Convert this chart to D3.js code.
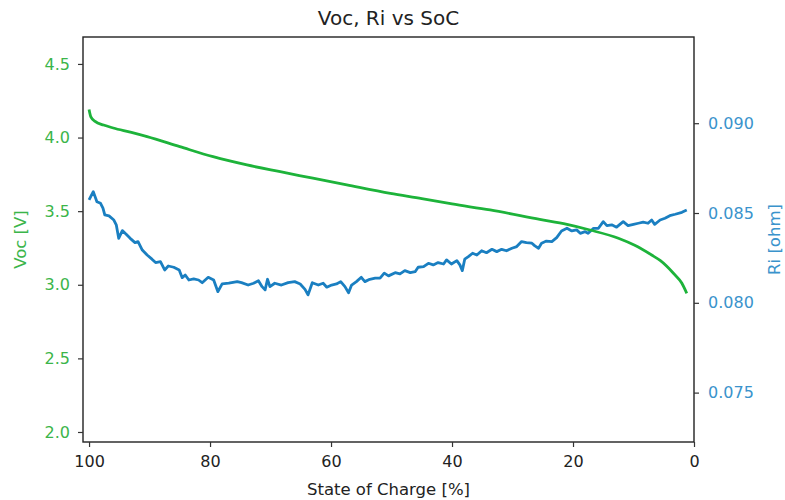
<!DOCTYPE html>
<html>
<head>
<meta charset="utf-8">
<script src="https://cdn.jsdelivr.net/npm/d3@7"></script>
<style>
  html, body { margin: 0; padding: 0; background: #fff; }
  svg { display: block; font-family: "DejaVu Sans", sans-serif; }
</style>
</head>
<body>
<svg id="chart" width="785" height="500"></svg>
<script>
// ---- data ----
const title = "Voc, Ri vs SoC";
const xLabel = "State of Charge [%]";
const yLeftLabel = "Voc [V]";
const yRightLabel = "Ri [ohm]";

const xTicks = [100, 80, 60, 40, 20, 0];
const vocTicks = [2.0, 2.5, 3.0, 3.5, 4.0, 4.5];
const riTicks = [0.075, 0.080, 0.085, 0.090];

const socV = [100, 99.7, 99.0, 97.6, 96.0, 93.0, 90.4, 85.0, 79.5, 73.9, 68.4, 63.0, 57.4, 50.2, 45.0, 40.0, 33.7, 25.5, 21.0, 17.2, 12.5, 9.8, 7.0, 5.6, 3.4, 2.0, 1.2];
const voc  = [4.19, 4.14, 4.11, 4.085, 4.065, 4.035, 4.006, 3.938, 3.870, 3.814, 3.768, 3.724, 3.678, 3.620, 3.585, 3.549, 3.508, 3.444, 3.410, 3.372, 3.316, 3.268, 3.202, 3.165, 3.078, 3.010, 2.942];

const socR = [
  100.0, 99.3, 98.7, 98.1, 97.7, 97.4, 96.7, 95.9, 95.5, 95.1,
  94.5, 93.9, 93.2, 92.4, 91.9, 91.2, 90.4, 89.6, 89.0, 88.2,
  87.5, 86.9, 86.0, 85.1, 84.6, 84.1, 83.5, 82.7, 81.9, 81.3,
  80.3, 79.4, 78.7, 78.0, 76.9, 75.5, 74.8, 73.7, 72.8, 72.0,
  71.4, 70.9, 70.5, 70.1, 69.3, 68.2, 67.1, 66.0, 65.1, 64.3,
  63.8, 63.1, 62.1, 61.3, 60.7, 59.9, 59.1, 58.4, 57.7, 57.1,
  56.6, 55.8, 55.0, 54.4, 53.6, 52.7, 51.9, 51.2, 50.5, 49.4,
  48.6, 47.8, 46.9, 46.1, 45.6, 44.7, 43.9, 43.1, 42.3, 41.4,
  40.9, 40.1, 39.2, 38.7, 38.3, 37.9, 37.3, 36.6, 35.9, 35.1,
  34.3, 33.4, 32.6, 31.8, 31.0, 30.1, 29.3, 28.5, 27.7, 26.8,
  26.3, 25.7, 25.2, 24.4, 23.5, 22.7, 21.9, 21.0, 20.2, 19.4,
  18.8, 18.0, 17.5, 16.6, 15.8, 15.0, 14.4, 13.6, 12.8, 11.7,
  10.9, 10.0, 9.2, 8.4, 7.6, 7.0, 6.5, 5.6, 4.8, 4.0, 3.1, 2.0, 1.2
];
const ri = [
  0.08573, 0.08619, 0.08563, 0.08554, 0.08527, 0.08489, 0.08484, 0.08461, 0.08434, 0.08359,
  0.08402, 0.08383, 0.08359, 0.08335, 0.08341, 0.08294, 0.08266, 0.08243, 0.08224, 0.08229,
  0.08183, 0.08205, 0.08198, 0.08183, 0.08140, 0.08155, 0.08127, 0.08133, 0.08127, 0.08112,
  0.08142, 0.08127, 0.08062, 0.08105, 0.08109, 0.08118, 0.08112, 0.08099, 0.08109, 0.08123,
  0.08090, 0.08072, 0.08131, 0.08090, 0.08109, 0.08099, 0.08112, 0.08118, 0.08105, 0.08075,
  0.08044, 0.08112, 0.08099, 0.08109, 0.08087, 0.08099, 0.08105, 0.08118, 0.08090, 0.08056,
  0.08099, 0.08118, 0.08142, 0.08118, 0.08131, 0.08137, 0.08137, 0.08165, 0.08150, 0.08168,
  0.08161, 0.08179, 0.08168, 0.08173, 0.08198, 0.08201, 0.08220, 0.08211, 0.08224, 0.08216,
  0.08239, 0.08216, 0.08235, 0.08211, 0.08179, 0.08243, 0.08257, 0.08276, 0.08266, 0.08290,
  0.08279, 0.08298, 0.08285, 0.08298, 0.08290, 0.08304, 0.08313, 0.08341, 0.08335, 0.08332,
  0.08317, 0.08304, 0.08332, 0.08344, 0.08341, 0.08363, 0.08400, 0.08415, 0.08400, 0.08406,
  0.08387, 0.08396, 0.08387, 0.08415, 0.08415, 0.08452, 0.08430, 0.08434, 0.08421, 0.08452,
  0.08430, 0.08437, 0.08443, 0.08449, 0.08443, 0.08461, 0.08437, 0.08461, 0.08471, 0.08485, 0.08493, 0.08504, 0.08517
];

// ---- layout ----
const greenLine = "#1db33a";
const blueLine = "#1a7fc1";
const greenText = "#3bb54a";
const blueText = "#3a93cc";

const margin = {left: 83, right: 91, top: 37, bottom: 58};
const W = 785, H = 500;
const svg = d3.select("#chart");

const x = d3.scaleLinear().domain([101, 0]).range([margin.left, W - margin.right]);
const yV = d3.scaleLinear().domain([1.932, 4.683]).range([H - margin.bottom, margin.top]);
const yR = d3.scaleLinear().domain([0.07225, 0.0948]).range([H - margin.bottom, margin.top]);

// lines
const vData = socV.map((s, i) => [s, voc[i]]);
const rData = socR.map((s, i) => [s, ri[i]]);

svg.append("path").datum(rData)
  .attr("fill", "none").attr("stroke", blueLine).attr("stroke-width", 2.8)
  .attr("stroke-linejoin", "round")
  .attr("d", d3.line().x(d => x(d[0])).y(d => yR(d[1])));

svg.append("path").datum(vData)
  .attr("fill", "none").attr("stroke", greenLine).attr("stroke-width", 2.8)
  .attr("d", d3.line().curve(d3.curveMonotoneX).x(d => x(d[0])).y(d => yV(d[1])));

// frame
svg.append("rect")
  .attr("x", margin.left).attr("y", margin.top)
  .attr("width", W - margin.right - margin.left)
  .attr("height", H - margin.bottom - margin.top)
  .attr("fill", "none").attr("stroke", "#222").attr("stroke-width", 1.4);

// axes
function styleAxis(g, color) {
  g.select(".domain").remove();
  g.selectAll(".tick line").attr("stroke", "#333").attr("stroke-width", 1.2);
  g.selectAll(".tick text").attr("fill", color).style("font-size", "16px")
    .style("font-family", "'DejaVu Sans', sans-serif");
}

const gx = svg.append("g").attr("transform", `translate(0,${H - margin.bottom})`)
  .call(d3.axisBottom(x).tickValues(xTicks).tickFormat(d3.format("d")).tickSize(5).tickPadding(9));
styleAxis(gx, "#222");

const gl = svg.append("g").attr("transform", `translate(${margin.left},0)`)
  .call(d3.axisLeft(yV).tickValues(vocTicks).tickFormat(d3.format(".1f")).tickSize(5).tickPadding(8));
styleAxis(gl, greenText);

const gr = svg.append("g").attr("transform", `translate(${W - margin.right},0)`)
  .call(d3.axisRight(yR).tickValues(riTicks).tickFormat(d3.format(".3f")).tickSize(5).tickPadding(9));
styleAxis(gr, blueText);

// labels
const midX = (margin.left + W - margin.right) / 2;
const midY = (margin.top + H - margin.bottom) / 2;

svg.append("text").attr("x", midX).attr("y", 25).attr("text-anchor", "middle")
  .style("font-size", "20px").attr("fill", "#222").text(title);

svg.append("text").attr("x", midX).attr("y", 495).attr("text-anchor", "middle")
  .style("font-size", "16.5px").attr("fill", "#222").text(xLabel);

svg.append("text").attr("transform", `translate(26,${midY}) rotate(-90)`).attr("text-anchor", "middle")
  .style("font-size", "16.5px").attr("fill", greenText).text(yLeftLabel);

svg.append("text").attr("transform", `translate(780,${midY}) rotate(-90)`).attr("text-anchor", "middle")
  .style("font-size", "16.5px").attr("fill", blueText).text(yRightLabel);
</script>
</body>
</html>
